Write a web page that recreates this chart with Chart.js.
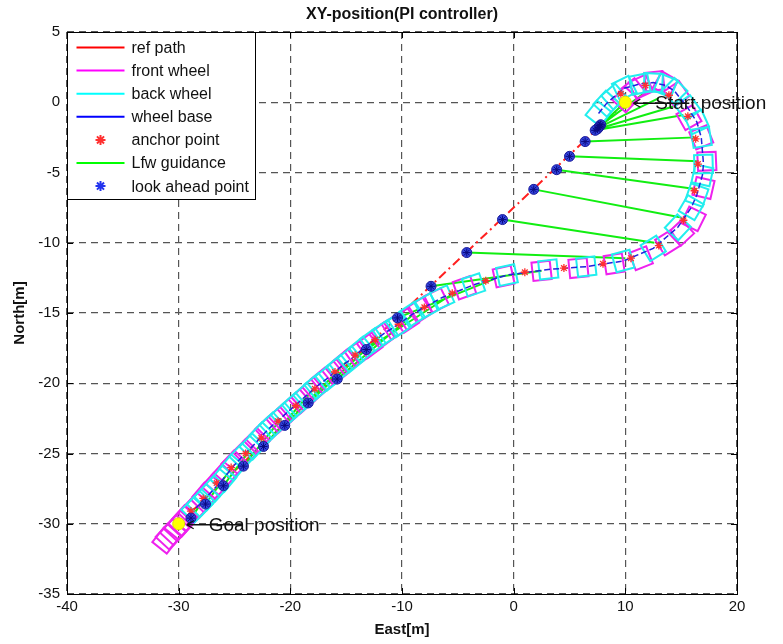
<!DOCTYPE html>
<html>
<head>
<meta charset="utf-8">
<script src="https://cdn.jsdelivr.net/npm/chart.js@4.4.0/dist/chart.umd.min.js"></script>
<style>
  html, body { margin: 0; padding: 0; background: #fff; }
</style>
</head>
<body>
<canvas id="xy" width="783" height="644"></canvas>
<script>
// reference path (straight line start -> goal)
const refX = [10, -30];
const refY = [0, -30];

// front wheel centres (magenta squares)
const frontX = [10.0, 10.7, 11.4, 12.6, 13.6, 14.6, 15.7, 16.8, 17.3, 17.0, 16.1, 15.0, 13.8, 11.4, 9.0, 5.8, 2.5, -0.9, -4.4, -6.9,
                -8.4, -9.6, -10.7, -11.8, -12.9, -14.0, -15.0, -16.0, -17.0, -18.0, -19.0, -20.0, -21.0, -22.0, -23.0, -24.0,
                -25.0, -25.9, -26.8, -27.6, -28.3, -28.9, -29.4, -29.8, -30.2, -30.5, -30.9, -31.2];
const frontY = [0.2, 0.8, 1.1, 1.5, 1.3, 0.6, -1.1, -2.5, -4.2, -6.1, -8.3, -9.3, -10.0, -11.1, -11.5, -11.8, -12.0, -12.4, -13.2, -14.1,
                -14.8, -15.5, -16.0, -16.6, -17.3, -17.9, -18.5, -19.2, -19.8, -20.5, -21.2, -21.9, -22.6, -23.3, -24.1, -24.9,
                -25.7, -26.5, -27.3, -28.0, -28.7, -29.2, -29.6, -30.0, -30.3, -30.6, -30.9, -31.2];

// back wheel centres (cyan squares)
const backX = [7.6, 8.3, 9.0, 9.9, 11.3, 12.5, 13.6, 14.4, 15.6, 16.4, 16.8, 17.0, 16.9, 16.4, 15.9, 14.7, 12.5, 9.8, 6.5, 3.1,
               -0.6, -3.6, -6.4, -7.8, -9.1, -10.3, -11.5, -12.6, -13.6, -14.6, -15.6, -16.6, -17.6, -18.6, -19.6, -20.6,
               -21.6, -22.5, -23.4, -24.3, -25.2, -26.0, -26.8, -27.5, -28.1, -28.6];
const backY = [-0.8, -0.1, 0.4, 1.0, 1.3, 1.4, 1.2, 0.8, -0.4, -1.4, -2.5, -4.4, -5.2, -6.6, -7.5, -8.9, -10.4, -11.3, -11.7, -11.9,
               -12.3, -13.0, -13.9, -14.5, -15.1, -15.8, -16.4, -17.0, -17.6, -18.3, -18.9, -19.6, -20.2, -20.9, -21.6, -22.3,
               -23.0, -23.7, -24.5, -25.2, -26.0, -26.8, -27.5, -28.1, -28.6, -29.0];

// anchor points (red stars)
const anchorX = [9.6, 11.8, 13.9, 15.6, 16.3, 16.5, 16.2, 15.2, 13.0, 10.5, 8.0, 4.5, 1.0, -2.5, -5.5, -8.0, -10.3, -12.4, -14.2,
                 -16.0, -17.8, -19.5, -21.1, -22.6, -24.0, -25.3, -26.6, -27.8, -28.9];
const anchorY = [0.6, 1.2, 0.5, -1.0, -2.6, -4.4, -6.3, -8.4, -10.2, -11.1, -11.5, -11.8, -12.1, -12.7, -13.6, -14.6, -15.8, -16.9, -18.0,
                 -19.2, -20.4, -21.6, -22.7, -23.9, -25.0, -26.0, -27.1, -28.2, -29.1];

// look ahead points and the vehicle position each guidance line starts from
const lookX  = [7.8, 7.7, 7.6, 7.5, 7.3, 6.4, 5.0, 3.85, 1.8, -1.0, -4.2, -7.4, -10.4, -13.2, -15.8, -18.4, -20.5, -22.4, -24.2, -26.0, -27.6, -28.9];
const lookY  = [-1.6, -1.7, -1.8, -1.9, -2.0, -2.8, -3.85, -4.8, -6.2, -8.35, -10.7, -13.1, -15.35, -17.6, -19.7, -21.4, -23.0, -24.5, -25.9, -27.3, -28.6, -29.6];
const guideX = [10.0, 11.6, 13.0, 14.3, 15.2, 16.3, 16.5, 16.4, 15.0, 12.6, 10.0, 2.5, -1.5, -5.0, -9.0, -12.0, -15.0, -18.0, -20.8, -23.3, -25.6, -27.5];
const guideY = [0.0, 0.6, 0.3, -0.3, -0.9, -2.5, -4.2, -6.2, -8.2, -10.0, -11.1, -12.0, -12.5, -13.4, -15.1, -16.7, -18.5, -20.5, -22.5, -24.4, -26.4, -28.0];

// start / goal markers
const noteX = [10, -30];
const noteY = [0, -30];
const noteText = ['Start position', 'Goal position'];

const xTicks = [-40, 20, 10];   // min, max, step
const yTicks = [-35, 5, 5];

const FONT = '"Liberation Sans", Arial, Helvetica, sans-serif';

function pts(xs, ys) {
    return xs.map((x, i) => ({ x: x, y: ys[i] }));
}

function segments(ax, ay, bx, by) {
    const out = [];
    for (let i = 0; i < ax.length; i++) {
        out.push({ x: ax[i], y: ay[i] }, { x: bx[i], y: by[i] }, { x: null, y: null });
    }
    return out;
}

// rotate the wheel squares along the direction of travel
function heading(xs, ys) {
    return function(ctx) {
        if (ctx.type !== 'data') return 0;
        const sx = ctx.chart.scales.x, sy = ctx.chart.scales.y;
        const i = ctx.dataIndex;
        const a = Math.max(i - 1, 0), b = Math.min(i + 1, xs.length - 1);
        const dx = sx.getPixelForValue(xs[b]) - sx.getPixelForValue(xs[a]);
        const dy = sy.getPixelForValue(ys[b]) - sy.getPixelForValue(ys[a]);
        return Math.atan2(dy, dx) * 180 / Math.PI;
    };
}

// MATLAB style box with inward ticks
const frame = {
    id: 'frame',
    afterDatasetsDraw(chart) {
        const { ctx, chartArea: a, scales: { x, y } } = chart;
        ctx.save();
        ctx.strokeStyle = '#000';
        ctx.lineWidth = 1;
        ctx.beginPath();
        x.ticks.forEach(t => {
            const px = Math.round(x.getPixelForValue(t.value)) + 0.5;
            ctx.moveTo(px, a.bottom); ctx.lineTo(px, a.bottom - 6);
            ctx.moveTo(px, a.top); ctx.lineTo(px, a.top + 6);
        });
        y.ticks.forEach(t => {
            const py = Math.round(y.getPixelForValue(t.value)) + 0.5;
            ctx.moveTo(a.left, py); ctx.lineTo(a.left + 6, py);
            ctx.moveTo(a.right, py); ctx.lineTo(a.right - 6, py);
        });
        ctx.stroke();
        ctx.strokeRect(Math.round(a.left) + 0.5, Math.round(a.top) + 0.5, Math.round(a.width), Math.round(a.height));
        ctx.restore();
    }
};

// text labels with arrows for start and goal
const notes = {
    id: 'notes',
    afterDatasetsDraw(chart) {
        const { ctx, scales: { x, y } } = chart;
        ctx.save();
        ctx.font = '19px ' + FONT;
        ctx.fillStyle = '#111';
        ctx.strokeStyle = '#111';
        ctx.lineWidth = 1.3;
        ctx.textBaseline = 'middle';
        noteText.forEach((t, i) => {
            const px = x.getPixelForValue(noteX[i]);
            const py = y.getPixelForValue(noteY[i]) + 1;
            ctx.beginPath();
            ctx.moveTo(px + 8, py); ctx.lineTo(px + 64, py);
            ctx.moveTo(px + 8, py); ctx.lineTo(px + 15, py - 4);
            ctx.moveTo(px + 8, py); ctx.lineTo(px + 15, py + 4);
            ctx.stroke();
            ctx.fillText(t, px + 30, py + 1);
        });
        ctx.restore();
    }
};

// legend box in the top left corner of the axes
const legendBox = {
    id: 'legendBox',
    afterDatasetsDraw(chart) {
        const { ctx, chartArea: a } = chart;
        const items = chart.data.datasets.filter(d => d.legendKind);
        ctx.save();
        ctx.font = '16px ' + FONT;
        let w = 0;
        items.forEach(d => { w = Math.max(w, ctx.measureText(d.label).width); });
        const rowH = 23.1;
        const bw = Math.round(9 + 48 + 7 + w + 7);
        const bh = Math.round(15 + (items.length - 1) * rowH + 13);
        const x0 = Math.round(a.left) + 0.5, y0 = Math.round(a.top) + 0.5;
        ctx.fillStyle = '#fff';
        ctx.fillRect(x0, y0, bw, bh);
        ctx.strokeStyle = '#000';
        ctx.lineWidth = 1;
        ctx.strokeRect(x0, y0, bw, bh);
        items.forEach((d, i) => {
            const cy = y0 + 15 + i * rowH;
            const sx = x0 + 9;
            if (d.legendKind === 'line') {
                ctx.strokeStyle = d.legendColor;
                ctx.lineWidth = 2;
                ctx.setLineDash([]);
                ctx.beginPath();
                ctx.moveTo(sx, cy); ctx.lineTo(sx + 48, cy);
                ctx.stroke();
            } else {
                ctx.strokeStyle = d.legendColor;
                ctx.fillStyle = d.legendColor;
                Chart.helpers.drawPoint(ctx, { pointStyle: 'star', radius: 5, rotation: 0, borderWidth: 1.5 }, sx + 24, cy);
            }
            ctx.fillStyle = '#111';
            ctx.textBaseline = 'middle';
            ctx.fillText(d.label, sx + 55, cy + 1);
        });
        ctx.restore();
    }
};

new Chart(document.getElementById('xy'), {
    type: 'scatter',
    data: {
        datasets: [
            {
                label: 'ref path', legendKind: 'line', legendColor: '#ff0000',
                data: pts(refX, refY), showLine: true,
                borderColor: '#ff2020', borderWidth: 2, borderDash: [9, 4, 2, 4],
                pointRadius: 0, order: 8
            },
            {
                label: 'front wheel', legendKind: 'line', legendColor: '#ff00ff',
                data: pts(frontX, frontY), showLine: false,
                pointStyle: 'rect', pointRadius: 13, pointBorderWidth: 2,
                pointBorderColor: '#ee22ee', pointBackgroundColor: 'rgba(0,0,0,0)',
                pointRotation: heading(frontX, frontY), order: 6
            },
            {
                label: 'back wheel', legendKind: 'line', legendColor: '#00ffff',
                data: pts(backX, backY), showLine: false,
                pointStyle: 'rect', pointRadius: 13, pointBorderWidth: 2,
                pointBorderColor: '#22eeee', pointBackgroundColor: 'rgba(0,0,0,0)',
                pointRotation: heading(backX, backY), order: 5
            },
            {
                label: 'wheel base', legendKind: 'line', legendColor: '#0000ff',
                data: pts(backX, backY), showLine: true,
                borderColor: '#2222dd', borderWidth: 1.5, borderDash: [6, 3],
                pointRadius: 0, order: 4
            },
            {
                label: 'anchor point', legendKind: 'marker', legendColor: '#ff3030',
                data: pts(anchorX, anchorY), showLine: false,
                pointStyle: 'star', pointRadius: 4, pointBorderWidth: 1.3,
                pointBorderColor: '#ff3030', order: 3
            },
            {
                label: 'Lfw guidance', legendKind: 'line', legendColor: '#00ff00',
                data: segments(guideX, guideY, lookX, lookY), showLine: true, spanGaps: false,
                borderColor: '#11ee11', borderWidth: 2,
                pointRadius: 0, order: 7
            },
            {
                label: 'look ahead point', legendKind: 'marker', legendColor: '#2233ee',
                data: pts(lookX, lookY), showLine: false,
                pointStyle: 'circle', pointRadius: 5, pointBorderWidth: 1,
                pointBackgroundColor: '#3344dd', pointBorderColor: '#1a1a99', order: 2
            },
            {
                label: 'look ahead star',
                data: pts(lookX, lookY), showLine: false,
                pointStyle: 'star', pointRadius: 4, pointBorderWidth: 1,
                pointBorderColor: '#0a0a80', order: 1
            },
            {
                label: 'start goal',
                data: pts(noteX, noteY), showLine: false,
                pointStyle: 'circle', pointRadius: 6, pointBorderWidth: 1,
                pointBackgroundColor: '#ffff00', pointBorderColor: '#e0e000', order: 0
            }
        ]
    },
    options: {
        responsive: false,
        animation: false,
        layout: { padding: { left: 0, right: 46, top: 0, bottom: 0 } },
        plugins: {
            legend: { display: false },
            tooltip: { enabled: false },
            title: {
                display: true,
                text: 'XY-position(PI controller)',
                fullSize: false,
                color: '#111',
                font: { family: FONT, size: 16, weight: 'bold', lineHeight: 1.2 },
                padding: { top: 5, bottom: 7.8 }
            }
        },
        scales: {
            x: {
                type: 'linear',
                min: xTicks[0], max: xTicks[1],
                afterFit: s => { s.height = 50; },
                ticks: { stepSize: xTicks[2], color: '#111', padding: 4, font: { family: FONT, size: 15 } },
                grid: { color: '#555', lineWidth: 1.2, drawTicks: false },
                border: { display: false, dash: [7, 5] },
                title: { display: true, text: 'East[m]', color: '#111', padding: { top: 0, bottom: 5 },
                         font: { family: FONT, size: 15, weight: 'bold' } }
            },
            y: {
                type: 'linear',
                min: yTicks[0], max: yTicks[1],
                afterFit: s => { s.width = 67; },
                ticks: { stepSize: yTicks[2], color: '#111', padding: 7, font: { family: FONT, size: 15 } },
                grid: { color: '#555', lineWidth: 1.2, drawTicks: false },
                border: { display: false, dash: [7, 5] },
                title: { display: true, text: 'North[m]', color: '#111', padding: { top: 11, bottom: 0 },
                         font: { family: FONT, size: 15, weight: 'bold' } }
            }
        }
    },
    plugins: [frame, legendBox, notes]
});
</script>
</body>
</html>
